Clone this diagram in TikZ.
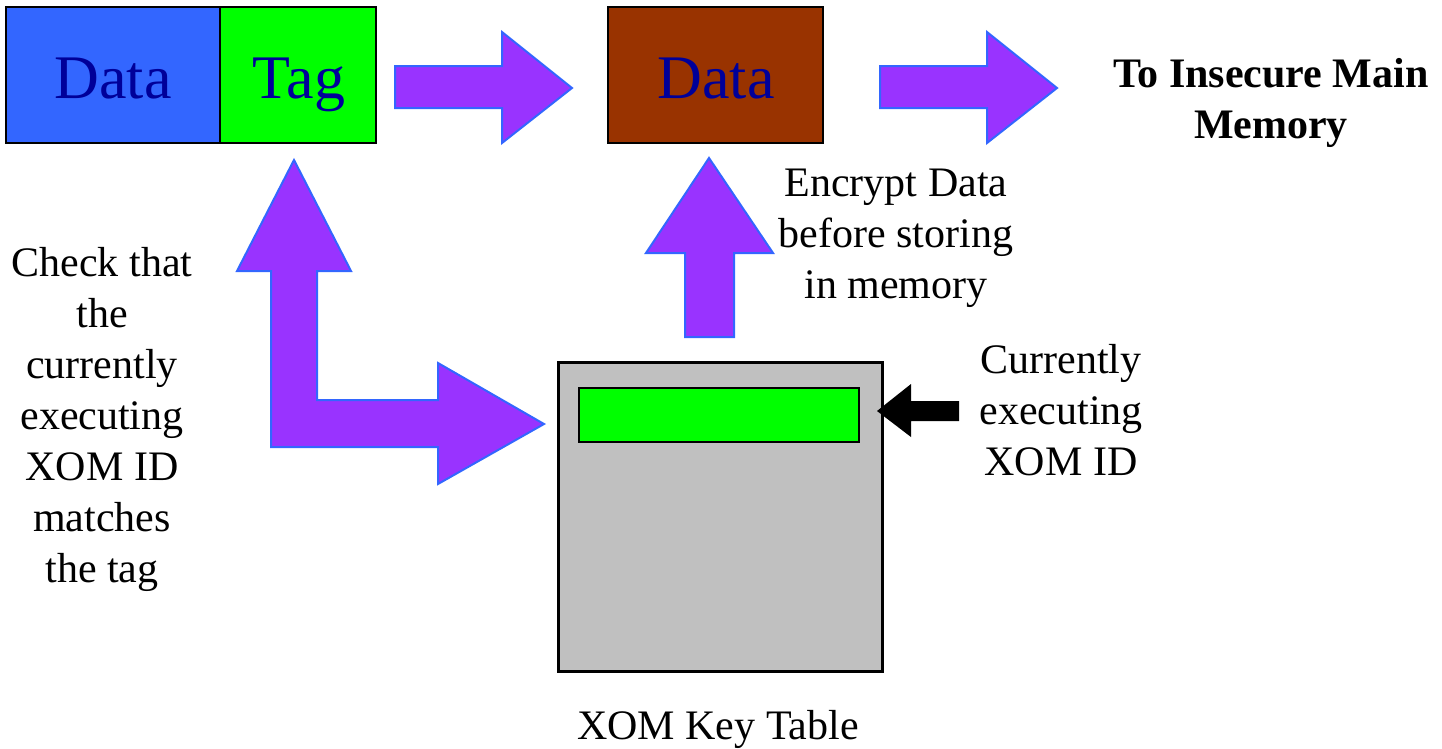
\documentclass[tikz,border=0pt]{standalone}
\usepackage{fontspec}
\setmainfont{Liberation Serif}
\definecolor{dblue}{HTML}{3366FF}
\definecolor{tagGreen}{HTML}{00FF00}
\definecolor{brownBox}{HTML}{993300}
\definecolor{txtBlue}{HTML}{000099}
\definecolor{arrowFill}{HTML}{9933FF}
\definecolor{arrowEdge}{HTML}{3366FF}
\definecolor{keyGray}{HTML}{C0C0C0}
\tikzset{
  cell/.style={draw=black, line width=2pt, inner sep=0pt, outer sep=0pt},
  bigtxt/.style={text=txtBlue, font=\fontsize{62}{70}\selectfont, inner sep=0pt},
  label/.style={align=center, inner sep=0pt, font=\fontsize{42}{51}\selectfont},
  blockarrow/.style={fill=arrowFill, draw=arrowEdge, line width=2pt, line join=miter},
}
\begin{document}
\begin{tikzpicture}[x=1pt, y=-1pt]
\useasboundingbox (0,0) rectangle (1442,748);

% plaintext word: data field and tag field
\node[cell, fill=dblue, minimum width=214pt, minimum height=136pt, anchor=north west] (data) at (6,7) {};
\node[cell, fill=tagGreen, minimum width=156pt, minimum height=136pt, anchor=north west] (tag) at (220,7) {};
\node[bigtxt, anchor=base] (datatxt) at (113,98) {Data};
\node[bigtxt, anchor=base] (tagtxt) at (299,98) {Tag};

% encrypted data
\node[cell, fill=brownBox, minimum width=215pt, minimum height=136pt, anchor=north west] (enc) at (608,7) {};
\node[bigtxt, anchor=base] (enctxt) at (716,98) {Data};

% XOM key table with the active entry
\node[draw=black, line width=2.5pt, fill=keyGray, minimum width=324pt, minimum height=309pt, anchor=north west, inner sep=0pt] (keytab) at (557,361) {};
\node[draw=black, line width=2pt, fill=tagGreen, minimum width=280pt, minimum height=54pt, anchor=north west, inner sep=0pt] (entry) at (578,387) {};

% block arrows
\draw[blockarrow] (395,66) -- (502,66) -- (502,32) -- (572,88) -- (502,143) -- (502,108) -- (395,108) -- cycle;
\draw[blockarrow] (880,66) -- (987,66) -- (987,32) -- (1057,88) -- (987,143) -- (987,108) -- (880,108) -- cycle;
\draw[blockarrow] (709,158) -- (773,253) -- (734,253) -- (734,337) -- (685,337) -- (685,253) -- (646,253) -- cycle;
\draw[blockarrow] (294,160) -- (351,271) -- (317,271) -- (317,400) -- (438,400) -- (438,363) -- (544,424)
  -- (438,484) -- (438,447) -- (271,447) -- (271,271) -- (237,271) -- cycle;

% pointer to the active entry
\fill[black] (877,411) -- (911,384) -- (911,401) -- (959,401) -- (959,421) -- (911,421) -- (911,437) -- cycle;

% labels
\node[label, font=\fontsize{42}{51}\selectfont\bfseries] (dest) at (1271,103) {To Insecure Main\\Memory};
\node[label] (enclbl) at (896,238) {Encrypt Data\\before storing\\in memory};
\node[label] (curlbl) at (1061,410) {Currently\\executing\\XOM ID};
\node[label] (chklbl) at (102,419) {Check that\\the\\currently\\executing\\XOM ID\\matches\\the tag};
\node[font=\fontsize{42}{51}\selectfont, inner sep=0pt, anchor=base] (keylbl) at (718,739) {XOM Key Table};
\end{tikzpicture}
\end{document}
